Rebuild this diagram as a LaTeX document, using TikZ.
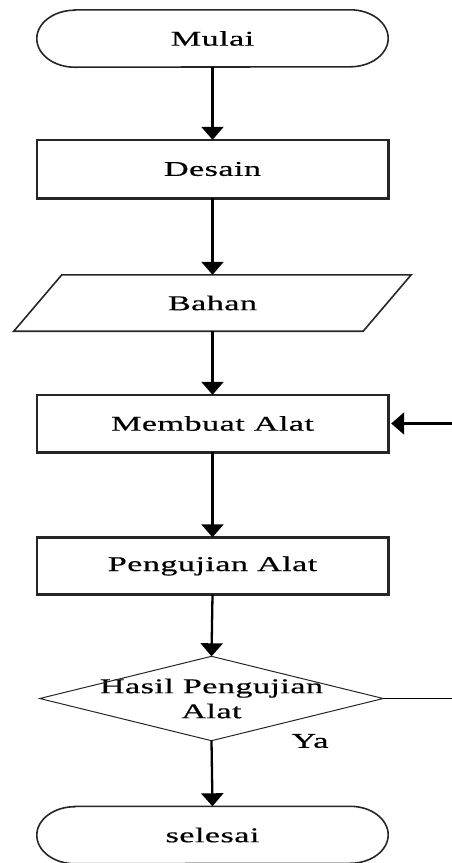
\documentclass[tikz,border=0pt]{standalone}
\usepackage{fontspec}
\setmainfont{Liberation Serif}[FakeStretch=1.63,FakeBold=0.5,LetterSpace=2]
\usetikzlibrary{arrows.meta}
\tikzset{
  box/.style={draw=none, minimum width=351pt, minimum height=57pt, inner sep=0pt, font=\fontsize{21}{25}\selectfont},
  edge/.style={draw=black!85, line width=2.6pt},
  thin/.style={draw=black!85, line width=1.6pt},
  flow/.style={draw=black, line width=2.3pt, -{Triangle[width=22pt,length=13pt]}},
  lbl/.style={font=\fontsize{21}{25}\selectfont, inner sep=0pt}
}
\begin{document}
\begin{tikzpicture}[x=1pt,y=-1pt]
\useasboundingbox (0,0) rectangle (452,863);
% nodes
\node[box] (mulai) at (212.5,38.5) {Mulai};
\node[box, minimum height=58pt] (desain) at (212.5,169) {Desain};
\node[box, minimum width=349pt, minimum height=56pt] (bahan) at (212.5,303) {Bahan};
\node[box] (membuat) at (212.5,423.5) {Membuat Alat};
\node[box] (uji) at (212.5,566) {Pengujian Alat};
\node[box, minimum width=343pt, minimum height=84pt, align=center] (hasil) at (211.5,698.5) {Hasil Pengujian\\Alat};
\node[box] (selesai) at (212.5,835) {selesai};
\node[lbl] (ya) at (310,741) {Ya};
\coordinate (r1) at (452,698.5);
\coordinate (r2) at (452,423.5);
% shapes
\foreach \n in {mulai,selesai}{
  \draw[thin] ([xshift=38pt]\n.north west) -- ([xshift=-38pt]\n.north east)
    arc[start angle=90,end angle=-90,x radius=38pt,y radius=28.5pt]
    -- ([xshift=38pt]\n.south west)
    arc[start angle=270,end angle=90,x radius=38pt,y radius=28.5pt] -- cycle;
}
\foreach \n in {desain,membuat,uji}{
  \draw[edge] (\n.north west) rectangle (\n.south east);
}
\draw[thin] ([xshift=24pt]bahan.north west) -- ([xshift=24pt]bahan.north east)
  -- ([xshift=-24pt]bahan.south east) -- ([xshift=-24pt]bahan.south west) -- cycle;
\draw[draw=black!85, line width=1pt] (hasil.north) -- (hasil.east) -- (hasil.south) -- (hasil.west) -- cycle;
% connectors
\draw[flow] (mulai.south) -- (desain.north);
\draw[flow] (desain.south) -- (bahan.north);
\draw[flow] (bahan.south) -- (membuat.north);
\draw[flow] (membuat.south) -- (uji.north);
\draw[flow] (uji.south) -- (hasil.north);
\draw[flow] (hasil.south) -- (selesai.north);
\draw[draw=black, line width=1.8pt] (hasil.east) -- (r1);
\draw[flow] (r2) -- ([xshift=3pt]membuat.east);
\end{tikzpicture}
\end{document}
